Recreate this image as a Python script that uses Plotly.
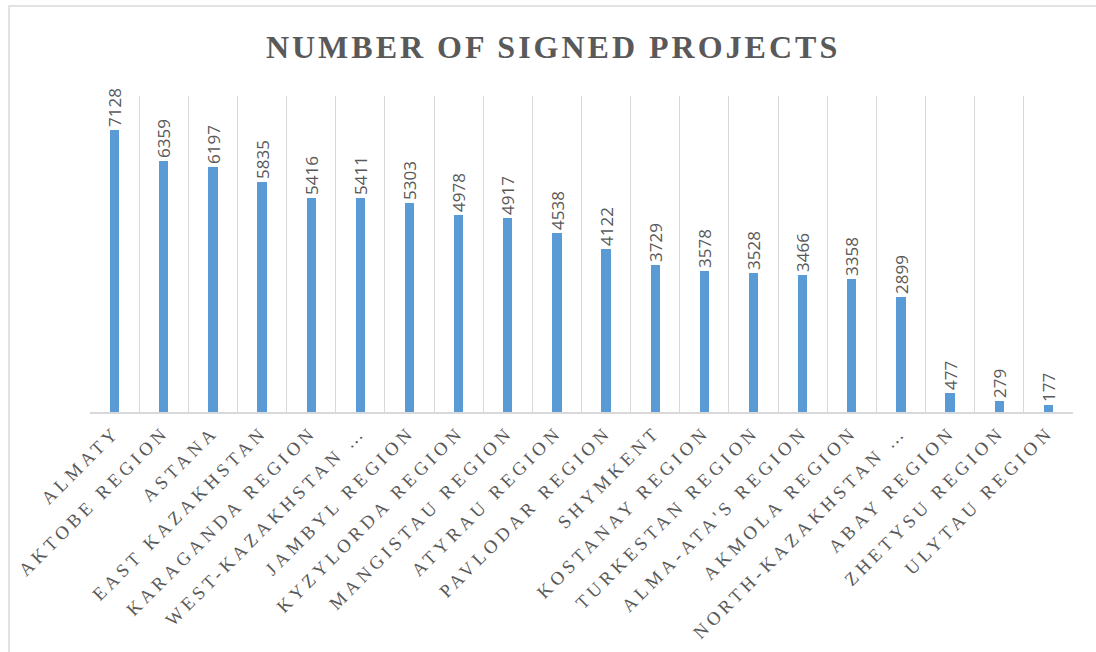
import plotly.graph_objects as go

regions = [
    "ALMATY", "AKTOBE REGION", "ASTANA", "EAST KAZAKHSTAN", "KARAGANDA REGION",
    "WEST-KAZAKHSTAN …", "JAMBYL REGION", "KYZYLORDA REGION", "MANGISTAU REGION",
    "ATYRAU REGION", "PAVLODAR REGION", "SHYMKENT", "KOSTANAY REGION",
    "TURKESTAN REGION", "ALMA-ATA'S REGION", "AKMOLA REGION", "NORTH-KAZAKHSTAN …",
    "ABAY REGION", "ZHETYSU REGION", "ULYTAU REGION",
]
projects = [
    7128, 6359, 6197, 5835, 5416, 5411, 5303, 4978, 4917, 4538,
    4122, 3729, 3578, 3528, 3466, 3358, 2899, 477, 279, 177,
]

fig = go.Figure()

fig.add_trace(go.Bar(
    x=regions,
    y=projects,
    width=0.19,
    marker=dict(color='#5B9BD5', line=dict(width=0)),
    text=[str(v) for v in projects],
    textposition='outside',
    textangle=-90,
    constraintext='none',
    textfont=dict(family='Open Sans, sans-serif', size=17, color='#595959'),
    cliponaxis=False,
))

fig.update_layout(
    title=dict(
        text='<b>NUMBER OF SIGNED PROJECTS</b>',
        x=0.5046, xanchor='center', y=0.928, yanchor='middle',
        font=dict(family='Liberation Serif, serif', size=32, color='#595959'),
    ),
    xaxis=dict(
        type='category',
        tickson='boundaries',
        showgrid=True,
        gridcolor='#D9D9D9',
        gridwidth=1,
        showline=True,
        linecolor='#D9D9D9',
        linewidth=1.5,
        ticks='',
        tickangle=-45,
        tickfont=dict(family='Liberation Serif, serif', size=18.5, color='#595959'),
    ),
    yaxis=dict(
        range=[0, 8000],
        showgrid=False,
        zeroline=False,
        showticklabels=False,
        showline=False,
    ),
    shapes=[dict(
        type='rect', xref='paper', yref='paper',
        x0=-0.0824, x1=1.03, y0=-0.79, y1=1.2848,
        line=dict(color='#D9D9D9', width=1.5),
    )],
    bargap=0,
    showlegend=False,
    plot_bgcolor='white',
    paper_bgcolor='white',
    margin=dict(l=90, r=23, t=96, b=240),
    width=1096,
    height=652,
)

# page margin off, letter spacing like the original labels
spacing_js = """
document.body.style.margin = '0px';
document.querySelectorAll('.xtick text').forEach(function (t) {
    t.style.letterSpacing = '4.2px';
});
document.querySelectorAll('.gtitle').forEach(function (t) {
    t.style.letterSpacing = '3px';
});
"""

fig.write_html("out.html", post_script=spacing_js, config={'displayModeBar': False})
